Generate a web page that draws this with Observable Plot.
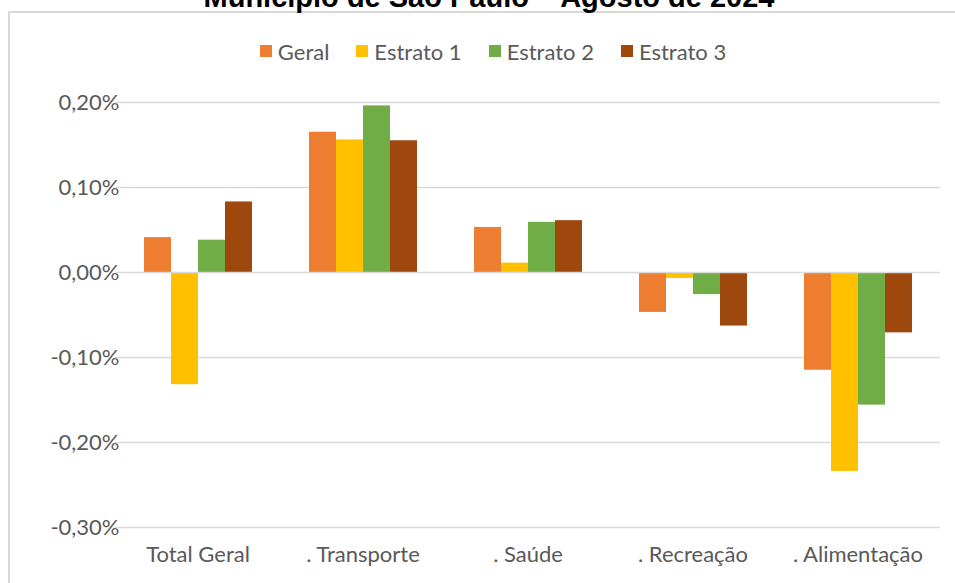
<!DOCTYPE html>
<html>
<head>
<meta charset="utf-8">
<script src="https://cdn.jsdelivr.net/npm/d3@7"></script>
<script src="https://cdn.jsdelivr.net/npm/@observablehq/plot@0.6"></script>
<style>
  html, body { margin: 0; padding: 0; background: #fff; }
  #wrap { position: relative; width: 955px; height: 583px; overflow: hidden; }
  #title { position: absolute; left: 489px; top: -17px; transform: translateX(-50%); white-space: nowrap;
           font-family: "Liberation Sans", Arial, sans-serif; font-weight: bold; font-size: 29px; line-height: 29px; color: #000; }
  #frame { position: absolute; left: 8px; top: 11px; width: 2000px; height: 2000px;
           border-left: 2px solid #d9d9d9; border-top: 2px solid #d9d9d9; }
  #legend { position: relative; height: 36px; padding-top: 33px; padding-left: 31px; display: flex; justify-content: center; align-items: center;
            font-family: Lato, sans-serif; font-size: 22px; color: #595959; gap: 27px; }
  .item { display: flex; align-items: center; }
  .sw { width: 12px; height: 12px; margin-right: 6px; display: inline-block; }
  #chart { position: relative; }
</style>
</head>
<body>
<div id="wrap">
  <div id="frame"></div>
  <div id="title">Município de São Paulo – Agosto de 2024</div>
  <div id="legend"></div>
  <div id="chart"></div>
</div>
<script>
const categories = ["Total Geral", ". Transporte", ". Saúde", ". Recreação", ". Alimentação"];
const series = ["Geral", "Estrato 1", "Estrato 2", "Estrato 3"];
const geral    = [0.041, 0.165, 0.053, -0.047, -0.115];
const estrato1 = [-0.132, 0.156, 0.011, -0.007, -0.234];
const estrato2 = [0.038, 0.196, 0.059, -0.026, -0.156];
const estrato3 = [0.083, 0.155, 0.061, -0.063, -0.071];
const colors = ["#ED7D31", "#FFC000", "#70AD47", "#9E480E"];
const yTicks = [-0.3, -0.2, -0.1, 0, 0.1, 0.2];

const valuesBySeries = [geral, estrato1, estrato2, estrato3];
const data = [];
categories.forEach((c, i) => {
  series.forEach((s, j) => data.push({cat: c, series: s, value: valuesBySeries[j][i]}));
});

const fmt = d => d.toFixed(2).replace(".", ",") + "%";

// legend
const legend = document.getElementById("legend");
series.forEach((s, j) => {
  const it = document.createElement("span");
  it.className = "item";
  it.innerHTML = `<span class="sw" style="background:${colors[j]}"></span><span>${s}</span>`;
  legend.appendChild(it);
});

const W = 955, ML = 115, MR = 15;
const padIn = 0.327, padOut = padIn / 2;
const step = (W - ML - MR) / (categories.length - padIn + 2 * padOut);
const gapHalf = step * padIn / 2;

const chart = Plot.plot({
  width: W,
  height: 513,
  marginLeft: ML,
  marginRight: MR,
  marginTop: 33,
  marginBottom: 55,
  style: {fontFamily: "Lato, sans-serif", fontSize: "22px", color: "#595959", background: "transparent", overflow: "visible"},
  fx: {domain: categories, paddingInner: padIn, paddingOuter: padOut, label: null, axis: "bottom", tickSize: 0, tickPadding: 19},
  x: {domain: series, axis: null, paddingInner: 0, paddingOuter: 0},
  y: {domain: [-0.3, 0.2], ticks: yTicks, tickFormat: fmt, label: null, tickSize: 0, tickPadding: 23},
  color: {domain: series, range: colors},
  marks: [
    Plot.ruleY(yTicks.filter(d => d !== 0), {stroke: "#d9d9d9", strokeWidth: 1.5, insetLeft: -gapHalf, insetRight: -gapHalf}),
    Plot.barY(data, {fx: "cat", x: "series", y: "value", fill: "series"}),
    Plot.ruleY([0], {stroke: "#d9d9d9", strokeWidth: 1.5, insetLeft: -gapHalf, insetRight: -gapHalf})
  ]
});
document.getElementById("chart").appendChild(chart);
</script>
</body>
</html>
